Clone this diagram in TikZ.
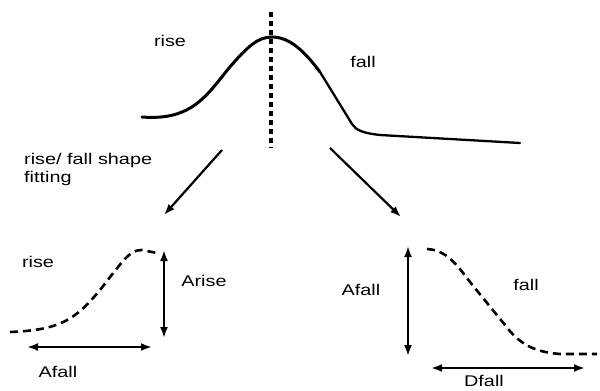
\documentclass[tikz,border=0pt]{standalone}
\usepackage{fontspec}
\setmainfont{Liberation Sans}[FakeStretch=1.28]
\usetikzlibrary{arrows.meta}
\begin{document}
\begin{tikzpicture}[x=1pt,y=-1pt,
  lbl/.style={font=\fontsize{15.5}{18}\selectfont, inner sep=0pt, text=black},
  curve/.style={line width=3pt, line cap=round, black},
  dcurve/.style={line width=2.6pt, dash pattern=on 8pt off 5pt, black},
  arr/.style={line width=2.2pt, -{Latex[length=11pt,width=8pt]}},
  darr/.style={line width=2.2pt, {Latex[length=11pt,width=8pt]}-{Latex[length=11pt,width=8pt]}}]
\useasboundingbox (0,0) rectangle (600,391);
% main curve
\draw[curve] (142,117) .. controls (192,121) and (207,95) .. (229,68)
  .. controls (248,46) and (258,37) .. (272,37)
  .. controls (290,37) and (305,52) .. (320,72);
\draw[line width=2.3pt, line cap=round] (320,72) -- (352,124)
  .. controls (356,130) and (362,133) .. (380,135) -- (520,143);
% vertical dashed line
\coordinate (vt) at (271,12);
\coordinate (vb) at (271,148);
\draw[line width=3.2pt, dash pattern=on 5pt off 4pt] (vt) -- (vb);
% labels top
\node[lbl] (rise1) at (170,41) {rise};
\node[lbl] (fall1) at (363,62) {fall};
\node[lbl, anchor=west, align=left] (fit) at (24,169) {rise/ fall shape\\fitting};
% arrows
\coordinate (la) at (222,150);
\coordinate (lb) at (164,215);
\coordinate (ra) at (330,148);
\coordinate (rb) at (401,217);
\draw[arr] (la) -- (lb);
\draw[arr] (ra) -- (rb);
% left sub-figure
\draw[dcurve] (10,332) .. controls (60,330) and (75,320) .. (100,290)
  .. controls (125,258) and (130,250) .. (142,250) -- (157,253);
\coordinate (a1) at (164,250);
\coordinate (a2) at (164,338);
\draw[darr] (a1) -- (a2);
\node[lbl] (arise) at (204,281) {Arise};
\node[lbl] (rise2) at (38,262) {rise};
\coordinate (h1) at (27,347);
\coordinate (h2) at (152,347);
\draw[darr] (h1) -- (h2);
\node[lbl] (afall1) at (58,372) {Afall};
% right sub-figure
\draw[dcurve] (427,249) .. controls (445,250) and (455,262) .. (470,282)
  -- (505,325) .. controls (520,345) and (535,352) .. (560,354) -- (597,354);
\coordinate (b1) at (408,246);
\coordinate (b2) at (408,356);
\draw[darr] (b1) -- (b2);
\node[lbl] (afall2) at (361,290) {Afall};
\node[lbl] (fall2) at (526,285) {fall};
\coordinate (g1) at (431,368);
\coordinate (g2) at (585,368);
\draw[darr] (g1) -- (g2);
\node[lbl] (dfall) at (484,381) {Dfall};
\end{tikzpicture}
\end{document}
